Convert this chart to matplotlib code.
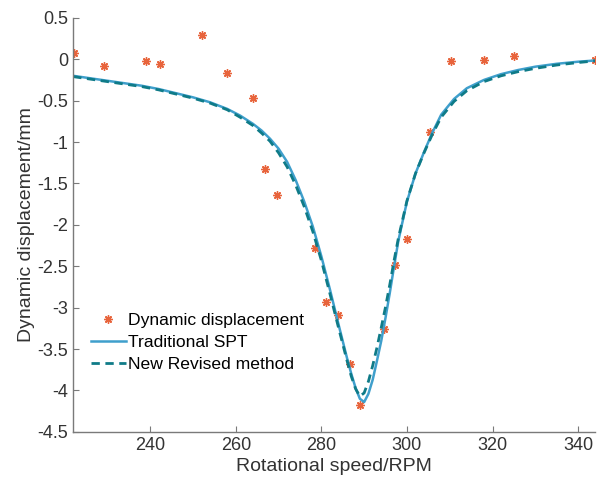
import matplotlib
matplotlib.use("Agg")
import matplotlib.pyplot as plt

plt.rcParams['font.family'] = ['Liberation Sans', 'DejaVu Sans']

# measured points
rpm_meas = [222.2, 229.3, 239.1, 242.4, 252.2, 258.0, 264.1, 266.9, 269.7, 278.4, 281.2,
            284.0, 286.8, 289.1, 294.7, 297.3, 300.1, 305.3, 310.4, 317.9, 325.0, 343.9]
disp_meas = [0.07, -0.08, -0.02, -0.055, 0.29, -0.165, -0.47, -1.33, -1.64, -2.28, -2.93,
             -3.09, -3.68, -4.17, -3.26, -2.48, -2.17, -0.88, -0.02, -0.01, 0.04, -0.01]

# fitted curves
rpm_fit = [222, 226, 230, 234, 238, 242, 246, 250, 254, 258, 261, 264, 266, 268, 270, 272,
           274, 276, 278, 280, 282, 284, 286, 287, 288, 289, 290, 291, 292, 293, 294, 295,
           296, 297, 298, 300, 302, 304, 306, 308, 311, 314, 318, 322, 326, 330, 335, 340, 344]
spt = [-0.20, -0.23, -0.26, -0.29, -0.32, -0.36, -0.41, -0.46, -0.52, -0.60, -0.68, -0.78,
       -0.86, -0.96, -1.08, -1.24, -1.46, -1.72, -2.02, -2.38, -2.78, -3.20, -3.61, -3.80,
       -3.97, -4.10, -4.14, -4.04, -3.87, -3.64, -3.40, -3.12, -2.82, -2.50, -2.19, -1.72,
       -1.38, -1.12, -0.88, -0.67, -0.48, -0.35, -0.25, -0.18, -0.13, -0.09, -0.055, -0.03, -0.015]
revised = [-0.21, -0.24, -0.27, -0.30, -0.33, -0.37, -0.42, -0.47, -0.53, -0.61, -0.70, -0.80,
           -0.89, -0.99, -1.13, -1.30, -1.52, -1.78, -2.08, -2.43, -2.83, -3.24, -3.64, -3.83,
           -3.98, -4.07, -4.03, -3.89, -3.70, -3.48, -3.24, -2.99, -2.72, -2.43, -2.16, -1.71,
           -1.38, -1.13, -0.90, -0.70, -0.51, -0.38, -0.27, -0.20, -0.15, -0.11, -0.07, -0.04, -0.02]

fig = plt.figure(figsize=(6, 4.82), dpi=100)
ax = fig.add_axes([0.122, 0.104, 0.870, 0.859])

ax.plot(rpm_meas, disp_meas, linestyle='none', marker=(8, 2, 0), markersize=6,
        markeredgewidth=1.0, color='#e8643c', label='Dynamic displacement')
ax.plot(rpm_fit, spt, color='#3f9fcc', linewidth=1.8, label='Traditional SPT')
ax.plot(rpm_fit, revised, color='#0f7b88', linewidth=2.0, linestyle=(0, (3, 2)),
        label='New Revised method')

ax.set_xlim(222, 344)
ax.set_ylim(-4.5, 0.5)
ax.set_xticks([240, 260, 280, 300, 320, 340])
ax.set_yticks([0.5, 0, -0.5, -1, -1.5, -2, -2.5, -3, -3.5, -4, -4.5])
ax.set_yticklabels(['0.5', '0', '-0.5', '-1', '-1.5', '-2', '-2.5', '-3', '-3.5', '-4', '-4.5'])

for s in ['top', 'right']:
    ax.spines[s].set_visible(False)
for s in ['left', 'bottom']:
    ax.spines[s].set_color('#7a7a7a')
    ax.spines[s].set_linewidth(1.0)
ax.tick_params(direction='in', length=4, color='#7a7a7a', labelsize=13, labelcolor='#333333')

ax.set_xlabel('Rotational speed/RPM', fontsize=14, color='#333333', labelpad=3)
ax.set_ylabel('Dynamic displacement/mm', fontsize=14, color='#333333', labelpad=2)

ax.legend(loc='upper left', bbox_to_anchor=(0.02, 0.305), frameon=False, fontsize=12.6,
          handlelength=2.0, handletextpad=0.15, labelspacing=0.4, borderaxespad=0.0)

fig.savefig('out.png', dpi=100)
